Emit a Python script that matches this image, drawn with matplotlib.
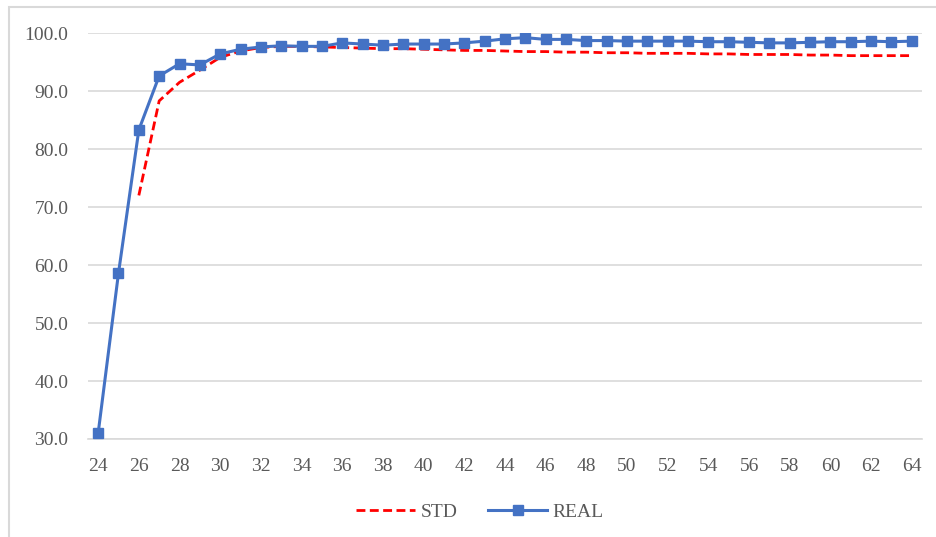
import matplotlib.pyplot as plt
from matplotlib.patches import Rectangle
from matplotlib.ticker import FormatStrFormatter

plt.rcParams['font.family'] = ['Liberation Serif', 'DejaVu Serif']

# 年龄（横轴）
ages_real = list(range(24, 65))
ages_std = list(range(26, 65))

real = [31.0, 58.6, 83.3, 92.6, 94.7, 94.5, 96.4, 97.2, 97.6, 97.8,
        97.7, 97.7, 98.3, 98.1, 97.9, 98.1, 98.1, 98.1, 98.3, 98.6,
        99.0, 99.2, 98.9, 98.9, 98.7, 98.7, 98.6, 98.6, 98.6, 98.6,
        98.5, 98.5, 98.4, 98.3, 98.3, 98.4, 98.5, 98.5, 98.6, 98.5,
        98.6]

std = [72.0, 88.3, 91.5, 93.6, 95.8, 96.9, 97.5, 97.7, 97.7, 97.6,
       97.5, 97.4, 97.3, 97.3, 97.2, 97.1, 97.0, 97.0, 96.9, 96.8,
       96.8, 96.7, 96.7, 96.6, 96.6, 96.5, 96.5, 96.5, 96.4, 96.4,
       96.3, 96.3, 96.3, 96.2, 96.2, 96.1, 96.1, 96.1, 96.1]

fig = plt.figure(figsize=(9.36, 5.37), dpi=100)
ax = fig.add_axes([0.094, 0.1825, 0.891, 0.756])

# 外框（只露出上边和左边）
fig.patches.append(Rectangle((9 / 936, -0.1), 1.2, 1 - 7 / 537 + 0.1,
                             transform=fig.transFigure, fill=False,
                             edgecolor='#d9d9d9', linewidth=1.5))

ax.plot(ages_std, std, color='#ff0000', linestyle=(0, (3.2, 1.6)),
        linewidth=2.0, label='STD', zorder=3)
ax.plot(ages_real, real, color='#4472c4', linewidth=2.2, marker='s',
        markersize=6.5, label='REAL', zorder=4)

ax.set_xlim(23.5, 64.5)
ax.set_ylim(30, 100)
ax.set_xticks(range(24, 65, 2))
ax.set_yticks(range(30, 101, 10))
ax.yaxis.set_major_formatter(FormatStrFormatter('%.1f'))
ax.grid(axis='y', color='#d9d9d9', linewidth=1.2)
ax.set_axisbelow(True)
for s in ax.spines.values():
    s.set_visible(False)
ax.spines['bottom'].set_visible(True)
ax.spines['bottom'].set_color('#d9d9d9')
ax.spines['bottom'].set_linewidth(1.2)
ax.tick_params(length=0, labelsize=14, colors='#595959')
ax.tick_params(axis='x', pad=14)
ax.tick_params(axis='y', pad=14)

ax.legend(loc='upper center', bbox_to_anchor=(0.47, -0.115), ncol=2,
          frameon=False, fontsize=14, labelcolor='#595959',
          handlelength=3.0, columnspacing=1.6, handletextpad=0.3)

fig.savefig('out.png', dpi=100, facecolor='white')
